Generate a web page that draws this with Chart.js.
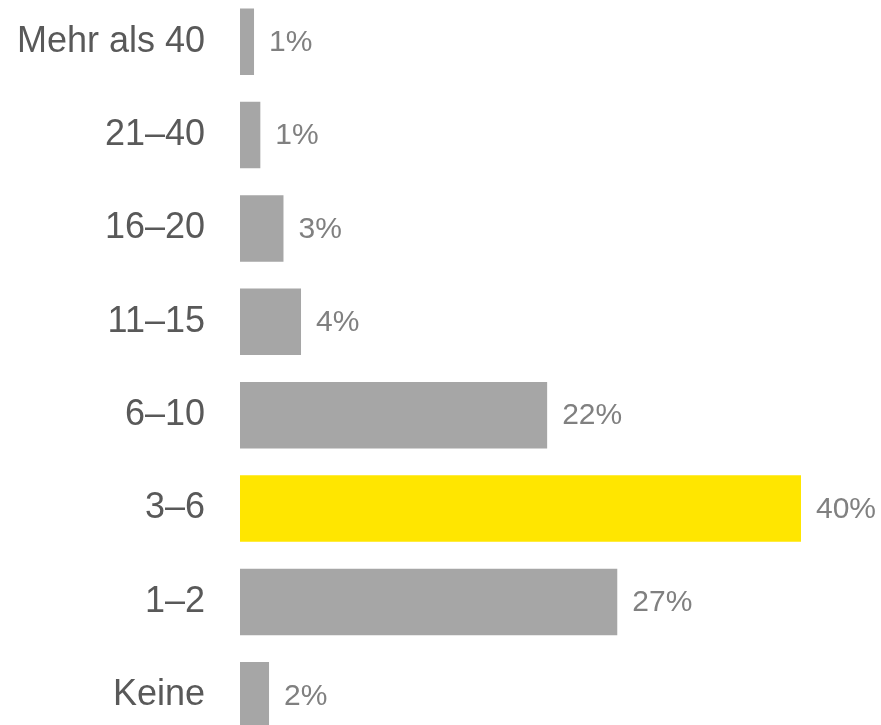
<!DOCTYPE html>
<html>
<head>
<meta charset="utf-8">
<script src="https://cdn.jsdelivr.net/npm/chart.js@4/dist/chart.umd.min.js"></script>
<style>
    html, body { margin: 0; padding: 0; background: #ffffff; overflow: hidden; }
    #wrap { position: absolute; left: 0; top: -5px; width: 881px; height: 747px; }
</style>
</head>
<body>
<div id="wrap"><canvas id="barChart"></canvas></div>
<script>
// Anzahl (Kategorien von oben nach unten)
const categories = ['Mehr als 40', '21–40', '16–20', '11–15', '6–10', '3–6', '1–2', 'Keine'];
const shares = [1.0, 1.45, 3.1, 4.35, 21.9, 40, 26.9, 2.07];
const highlight = '3–6';

const barColors = categories.map(c => c === highlight ? '#ffe600' : '#a6a6a6');

// Prozentwerte rechts neben den Balken
const valueLabels = {
    id: 'valueLabels',
    afterDatasetsDraw(chart) {
        const ctx = chart.ctx;
        const meta = chart.getDatasetMeta(0);
        ctx.save();
        ctx.font = '30px "Liberation Sans", Arial, sans-serif';
        ctx.fillStyle = '#808080';
        ctx.textAlign = 'left';
        ctx.textBaseline = 'middle';
        meta.data.forEach((bar, i) => {
            ctx.fillText(Math.round(shares[i]) + '%', bar.x + 15, bar.y + 1);
        });
        ctx.restore();
    }
};

const ctx = document.getElementById('barChart').getContext('2d');
new Chart(ctx, {
    type: 'bar',
    data: {
        labels: categories,
        datasets: [{
            data: shares,
            backgroundColor: barColors,
            borderWidth: 0,
            categoryPercentage: 1,
            barPercentage: 0.712
        }]
    },
    options: {
        indexAxis: 'y',
        responsive: true,
        maintainAspectRatio: false,
        animation: false,
        layout: {
            padding: { left: 0, right: 80, top: 0, bottom: 0 }
        },
        plugins: {
            legend: { display: false },
            tooltip: { enabled: false }
        },
        scales: {
            x: {
                display: false,
                min: 0,
                max: 40
            },
            y: {
                afterFit: function(scale) {
                    scale.width = 240;
                    scale.paddingTop = 0;
                    scale.paddingBottom = 0;
                },
                grid: { display: false, drawTicks: false },
                border: { display: false },
                ticks: {
                    color: '#595959',
                    padding: 35,
                    font: { family: '"Liberation Sans", Arial, sans-serif', size: 36 }
                }
            }
        }
    },
    plugins: [valueLabels]
});
</script>
</body>
</html>
